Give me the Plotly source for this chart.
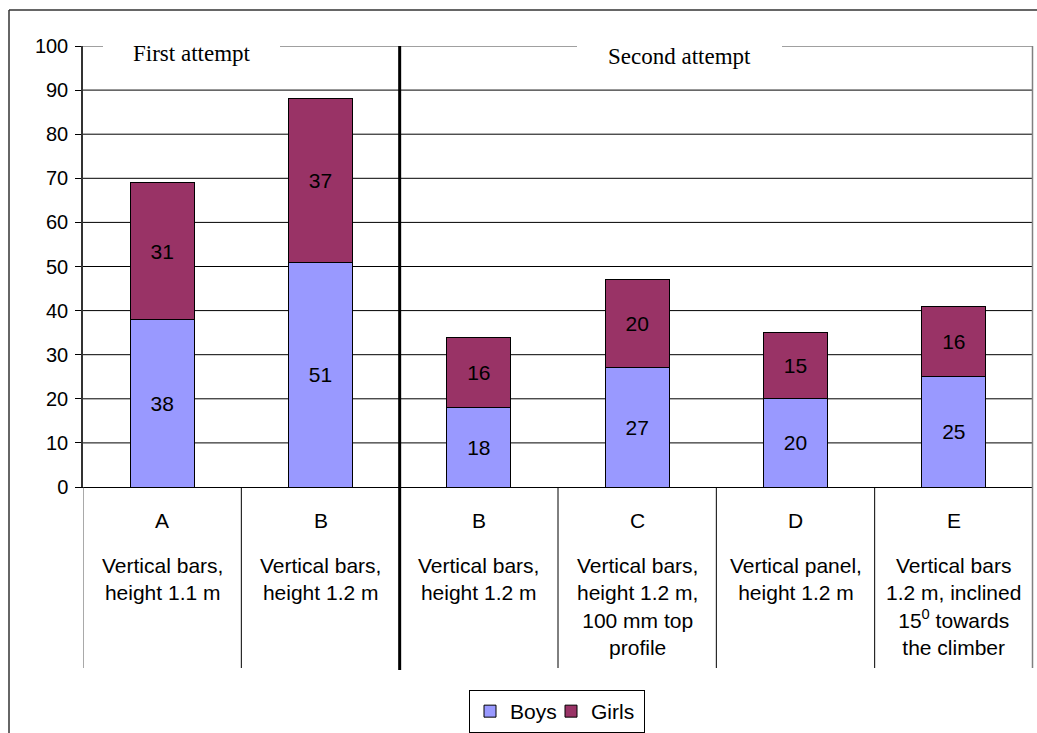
import plotly.graph_objects as go

# ---- data ----
letters = ["A", "B", "B", "C", "D", "E"]
descriptions = [
    ["Vertical bars,", "height 1.1 m"],
    ["Vertical bars,", "height 1.2 m"],
    ["Vertical bars,", "height 1.2 m"],
    ["Vertical bars,", "height 1.2 m,", "100 mm top", "profile"],
    ["Vertical panel,", "height 1.2 m"],
    ["Vertical bars", "1.2 m, inclined", "15<sup>0</sup> towards", "the climber"],
]
boys = [38, 51, 18, 27, 20, 25]
girls = [31, 37, 16, 20, 15, 16]
y_ticks = [0, 10, 20, 30, 40, 50, 60, 70, 80, 90, 100]
group_titles = ["First attempt", "Second attempt"]

# ---- layout constants (pixels, page coordinates) ----
W, H = 1037, 733
PLOT_L, PLOT_R, PLOT_T, PLOT_B = 83, 1033, 46, 487
L, T = PLOT_L, PLOT_T
R, B = W - PLOT_R, H - PLOT_B
PW, PH = PLOT_R - PLOT_L, PLOT_B - PLOT_T


def px_x(p):
    return (p - PLOT_L) / PW


def px_y(p):
    return (PLOT_B - p) / PH


SANS = "Liberation Sans, Arial, sans-serif"
SERIF = "Liberation Serif, Times New Roman, serif"
xpos = list(range(len(letters)))

fig = go.Figure()
fig.add_trace(go.Bar(
    x=xpos, y=boys, name="Boys", legendwidth=36,
    marker=dict(color="#9999FF", line=dict(color="black", width=1)),
    text=boys, textposition="inside", insidetextanchor="middle", textangle=0,
    textfont=dict(family=SANS, size=21, color="black"),
    constraintext="none",
))
fig.add_trace(go.Bar(
    x=xpos, y=girls, name="Girls", legendwidth=48,
    marker=dict(color="#993366", line=dict(color="black", width=1)),
    text=girls, textposition="inside", insidetextanchor="middle", textangle=0,
    textfont=dict(family=SANS, size=21, color="black"),
    constraintext="none",
))

shapes = []
# gridlines
for v in y_ticks[1:-1]:
    shapes.append(dict(type="line", xref="paper", yref="y", x0=0, x1=1, y0=v, y1=v,
                       line=dict(color="black", width=1), layer="below"))
# top border (gray), broken by the group titles
top = y_ticks[-1]
for a, b in [(83, 103), (280, 577), (782, 1033)]:
    shapes.append(dict(type="line", xref="paper", yref="y", x0=px_x(a), x1=px_x(b), y0=top, y1=top,
                       line=dict(color="#808080", width=1.5)))
# right border
shapes.append(dict(type="line", xref="paper", yref="paper", x0=px_x(1032.5), x1=px_x(1032.5),
                   y0=1, y1=px_y(668), line=dict(color="#808080", width=1.5)))
# category table separators
n = len(letters)
for k in [-0.5, 0.5, 2.5, 3.5, 4.5]:
    shapes.append(dict(type="line", xref="x", yref="paper", x0=k, x1=k, y0=0, y1=px_y(668),
                       line=dict(color="#555555" if k == -0.5 else "black", width=1)))
# thick divider between attempts
shapes.append(dict(type="line", xref="x", yref="paper", x0=1.5, x1=1.5, y0=1, y1=px_y(670),
                   line=dict(color="black", width=3)))
# outer chart frame
shapes.append(dict(type="line", xref="paper", yref="paper", x0=px_x(9), x1=px_x(1045),
                   y0=px_y(10), y1=px_y(10), line=dict(color="#333333", width=1.5)))
shapes.append(dict(type="line", xref="paper", yref="paper", x0=px_x(9), x1=px_x(9),
                   y0=px_y(10), y1=px_y(745), line=dict(color="#333333", width=1.5)))

annotations = []
for i, (let, desc) in enumerate(zip(letters, descriptions)):
    annotations.append(dict(x=i, xref="x", y=px_y(520), yref="paper", text=let, showarrow=False,
                            xanchor="center", yanchor="middle",
                            font=dict(family=SANS, size=21, color="black")))
    annotations.append(dict(x=i, xref="x", y=px_y(552), yref="paper", text="<br>".join(desc),
                            showarrow=False, xanchor="center", yanchor="top", align="center",
                            font=dict(family=SANS, size=21, color="black")))
annotations.append(dict(x=px_x(192), xref="paper", y=px_y(54), yref="paper", text=group_titles[0],
                        showarrow=False, xanchor="center", yanchor="middle",
                        font=dict(family=SERIF, size=23, color="black")))
annotations.append(dict(x=px_x(679), xref="paper", y=px_y(56.5), yref="paper", text=group_titles[1],
                        showarrow=False, xanchor="center", yanchor="middle",
                        font=dict(family=SERIF, size=23, color="black")))

fig.update_layout(
    width=W, height=H,
    margin=dict(l=L, r=R, t=T, b=B, pad=0, autoexpand=False),
    paper_bgcolor="white", plot_bgcolor="white",
    barmode="stack", bargap=0.595,
    showlegend=True,
    legend=dict(orientation="h", x=px_x(557), xanchor="center", y=px_y(690), yanchor="top",
                bgcolor="white", bordercolor="black", borderwidth=1,
                font=dict(family=SANS, size=21, color="black"), traceorder="normal",
                itemwidth=30),
    shapes=shapes,
    annotations=annotations,
    xaxis=dict(range=[-0.5, n - 0.5], showticklabels=False, ticks="", showgrid=False,
               zeroline=False, showline=True, linecolor="black", linewidth=1),
    yaxis=dict(range=[0, 100], tickvals=y_ticks, showgrid=False, zeroline=False,
               showline=True, linecolor="#333333", linewidth=1.5,
               ticks="outside", ticklen=6, tickcolor="black", tickwidth=1,
               tickfont=dict(family=SANS, size=20, color="black"), ticklabelstandoff=3),
)

fig.write_html(
    "out.html",
    config={"displayModeBar": False},
    post_script="document.body.style.margin='0';document.body.style.overflow='hidden';",
)
